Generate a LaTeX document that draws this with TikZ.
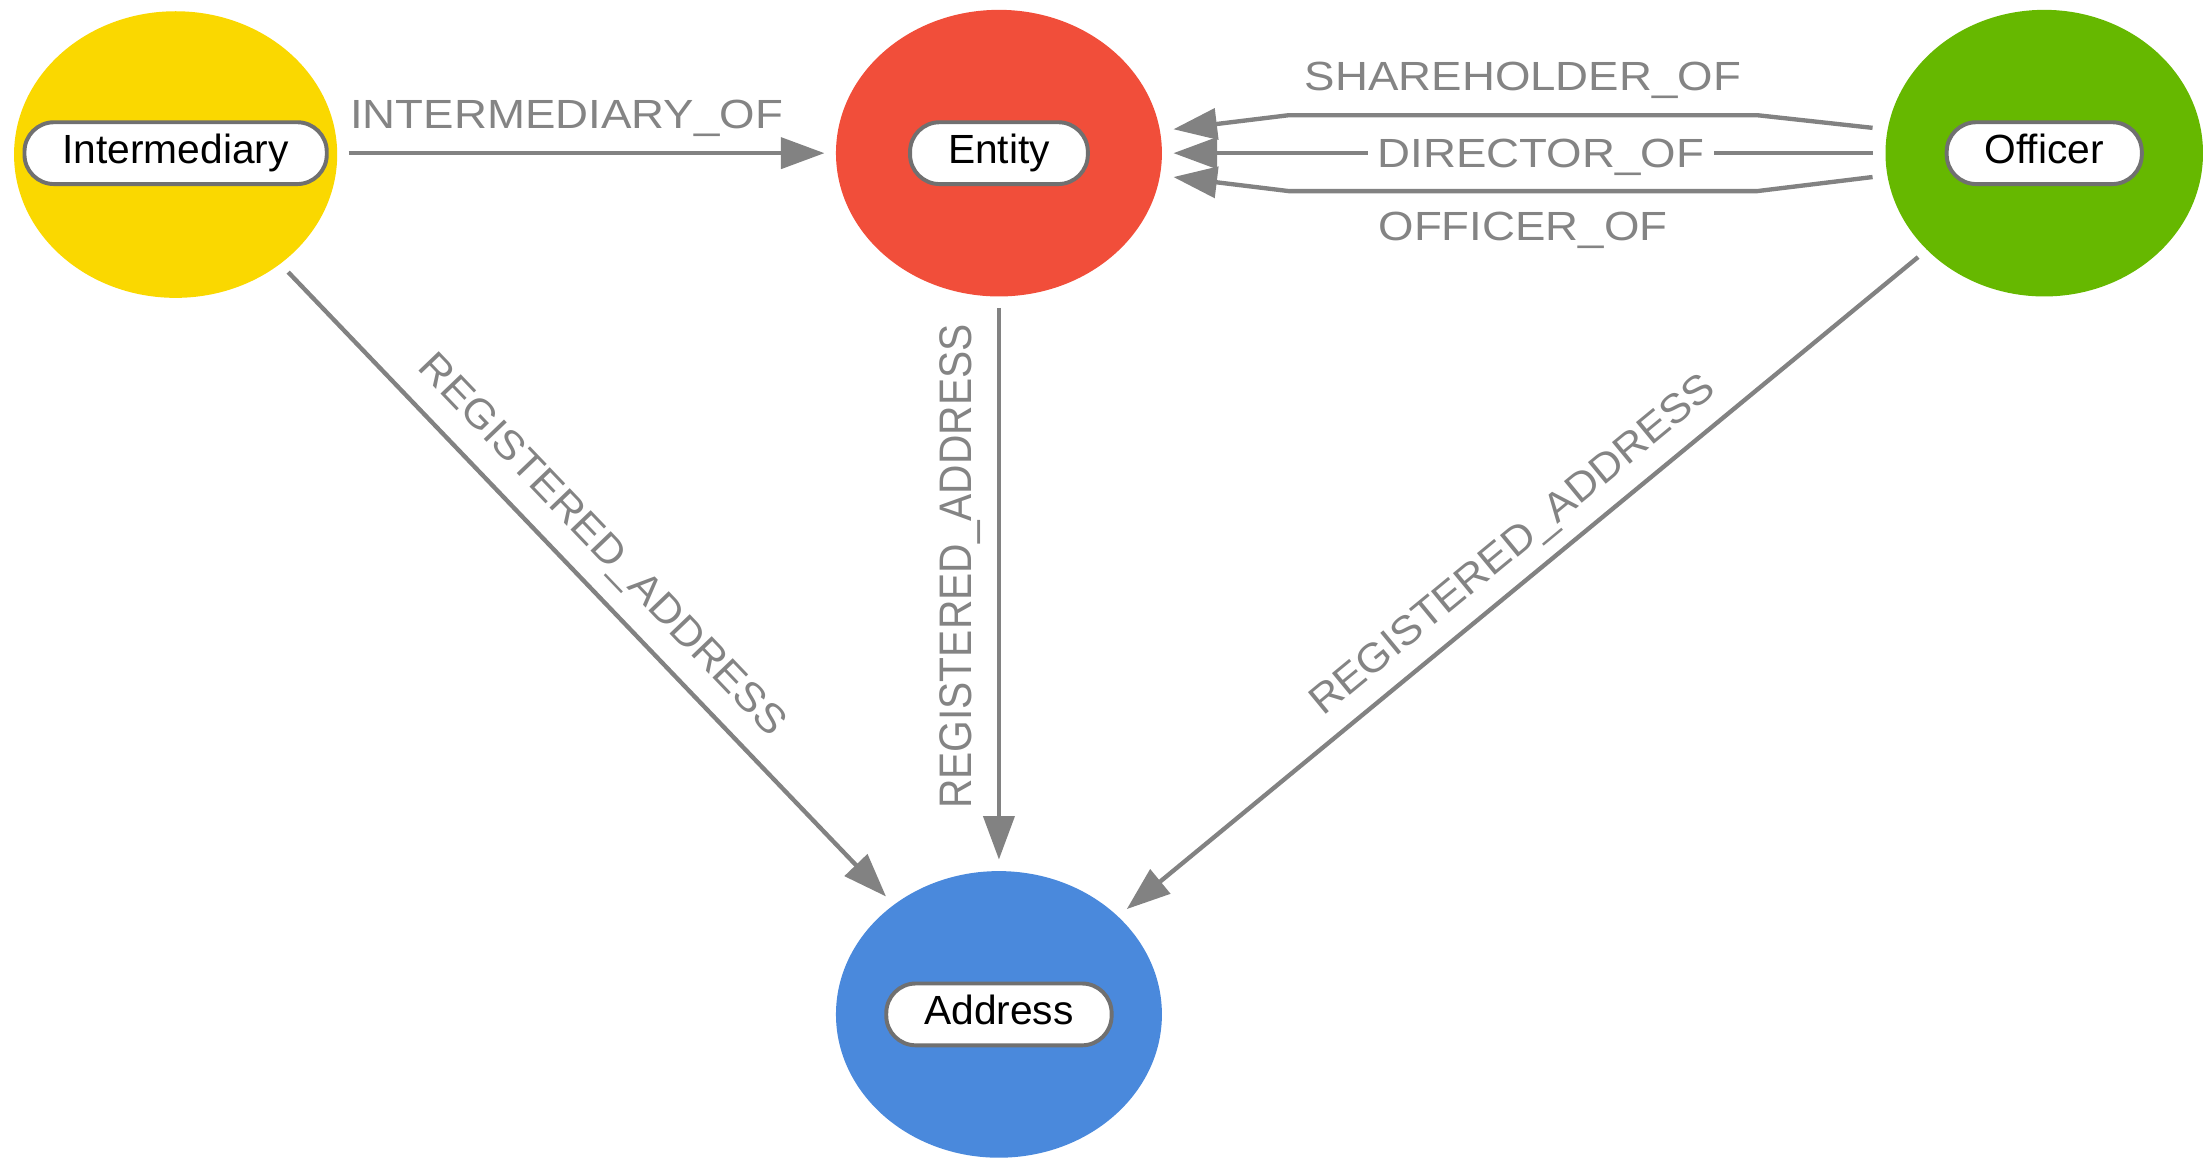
\documentclass[tikz,border=0pt]{standalone}
\usepackage{fontspec}
\setmainfont{Liberation Sans}
\newfontfamily\labH[FakeStretch=1.12]{Liberation Sans}
\newfontfamily\labD[FakeStretch=1.055]{Liberation Sans}
\usetikzlibrary{shapes.geometric,arrows.meta,calc}
\definecolor{cInt}{RGB}{250,216,0}
\definecolor{cEnt}{RGB}{241,78,58}
\definecolor{cOff}{RGB}{102,184,0}
\definecolor{cAdr}{RGB}{74,137,220}
\definecolor{edgegray}{RGB}{130,130,130}
\definecolor{labgray}{RGB}{132,132,132}
\definecolor{pillgray}{RGB}{112,112,112}
\begin{document}
\begin{tikzpicture}[x=1pt,y=-1pt,
  blob/.style={ellipse, draw=none, inner sep=0pt, minimum height=204pt},
  pill/.style={draw=pillgray, line width=2.8pt, fill=white, rounded corners=21pt,
    minimum height=44pt, inner xsep=27pt, inner ysep=0pt, text height=21pt, text depth=6pt,
    font=\fontsize{29}{34}\selectfont, text=black},
  rel/.style={draw=edgegray, line width=3.1pt, -{Triangle[length=31pt,width=22pt]},
    shorten <=8pt, shorten >=8pt},
  lab/.style={text=labgray, text depth=0pt, text height=20.8pt, inner xsep=0pt},
  labh/.style={lab, font=\labH\fontsize{29}{34}\selectfont},
  labd/.style={lab, font=\labD\fontsize{29}{34}\selectfont},
  labv/.style={lab, font=\fontsize{29}{34}\selectfont},
]
\useasboundingbox (0,0) rectangle (1568,825.6);

% node bodies
\node[blob, fill=cInt, minimum width=230pt] (int) at (125,110) {};
\node[blob, fill=cEnt, minimum width=232pt] (ent) at (711,109) {};
\node[blob, fill=cOff, minimum width=226pt] (off) at (1455,109) {};
\node[blob, fill=cAdr, minimum width=232pt] (addr) at (711,722) {};

% labels
\node[pill] (intL) at (125,109) {Intermediary};
\node[pill] (entL) at (ent) {Entity};
\node[pill] (offL) at (off) {Officer};
\node[pill] (addrL) at (addr) {Address};

% relations
\draw[rel] (int.east |- ent) -- node[labh, pos=0.46, anchor=south, inner ysep=16pt] {INTERMEDIARY\_OF} (ent);

\draw[rel, shorten <=0pt, shorten >=0pt]
  ($(off.west)+(-9,-18)$) -- ($(off.west)+(-91,-27)$)
  -- node[labh, midway, anchor=south, inner ysep=16pt] {SHAREHOLDER\_OF} ($(ent.east)+(90,-27)$)
  -- ($(ent.east)+(8,-17)$);
\draw[rel, shorten <=9pt, shorten >=8pt] (off.west)
  -- node[labh, pos=0.476, fill=white, inner xsep=7pt, inner ysep=2pt] {DIRECTOR\_OF} (ent.east);
\draw[rel, shorten <=0pt, shorten >=0pt]
  ($(off.west)+(-9,17)$) -- ($(off.west)+(-91,27)$)
  -- node[labh, midway, anchor=north, inner ysep=13pt] {OFFICER\_OF} ($(ent.east)+(90,27)$)
  -- ($(ent.east)+(8,17)$);

\draw[rel] (int) -- node[labd, sloped, pos=0.48, anchor=south, inner ysep=17pt] {REGISTERED\_ADDRESS} (addr);
\draw[rel] (ent) -- node[labv, rotate=90, pos=0.47, anchor=south, inner ysep=18pt] {\scalebox{1}[1.12]{REGISTERED\_ADDRESS}} (addr);
\draw[rel] (off) -- node[labd, sloped, pos=0.484, anchor=south, inner ysep=15pt] {REGISTERED\_ADDRESS} (addr);
\end{tikzpicture}
\end{document}
